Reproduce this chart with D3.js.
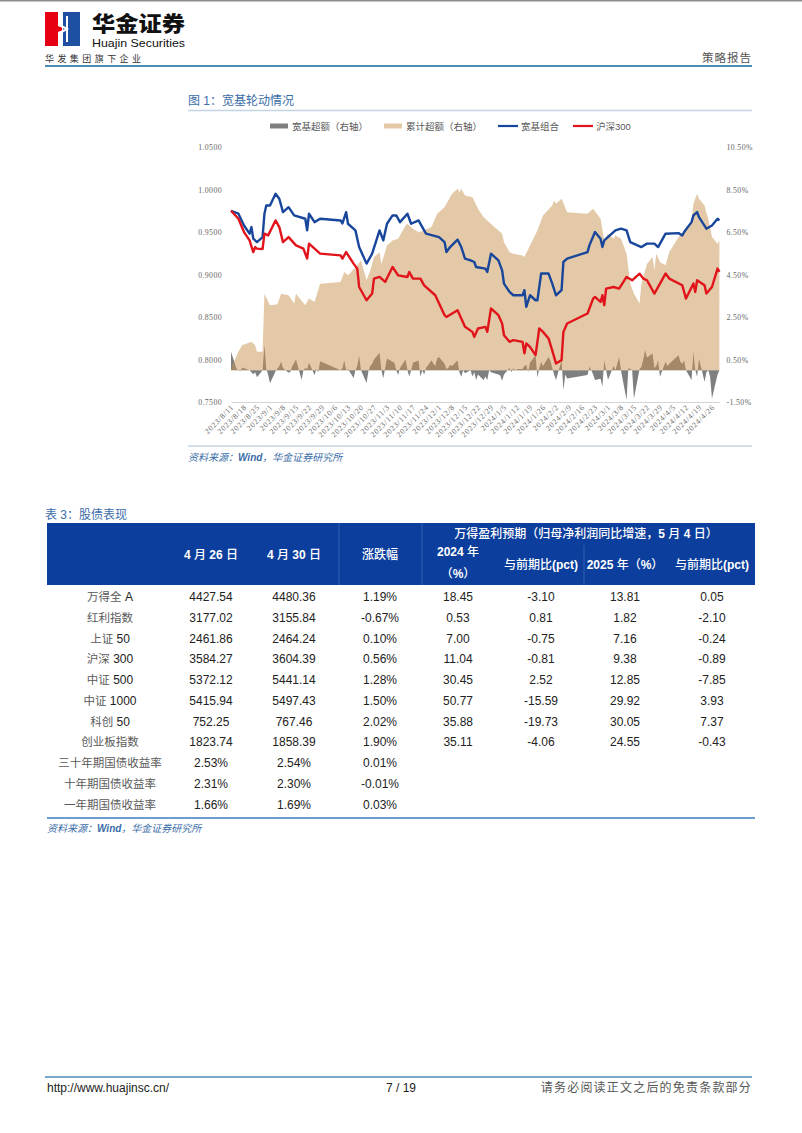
<!DOCTYPE html>
<html><head><meta charset="utf-8">
<script src="https://cdn.jsdelivr.net/npm/d3@7"></script>
<style>
body{margin:0;background:#fff;}
svg text{font-family:"Liberation Sans",Arial,"Noto Sans CJK SC",sans-serif; white-space:pre;}
</style></head><body>
<svg id="page" width="802" height="1133"></svg>
<script>
// ---------------- DATA ----------------
const legendLabels = ["宽基超额（右轴）","累计超额（右轴）","宽基组合","沪深300"];
const xTickLabels = ["2023/8/11","2023/8/18","2023/8/25","2023/9/1","2023/9/8","2023/9/15","2023/9/22","2023/9/29","2023/10/6","2023/10/13","2023/10/20","2023/10/27","2023/11/3","2023/11/10","2023/11/17","2023/11/24","2023/12/1","2023/12/8","2023/12/15","2023/12/22","2023/12/29","2024/1/5","2024/1/12","2024/1/19","2024/1/26","2024/2/2","2024/2/9","2024/2/16","2024/2/23","2024/3/1","2024/3/8","2024/3/15","2024/3/22","2024/3/29","2024/4/5","2024/4/12","2024/4/19","2024/4/26"];
const leftTicks = [0.75,0.80,0.85,0.90,0.95,1.00,1.05];
const rightTicks = [-1.5,0.5,2.5,4.5,6.5,8.5,10.5];

const portfolio = [["2023-08-11",0.975],["2023-08-15",0.9715],["2023-08-18",0.9577],["2023-08-21",0.948],["2023-08-22",0.9558],["2023-08-23",0.9421],["2023-08-25",0.9381],["2023-08-28",0.944],["2023-08-29",0.9715],["2023-08-30",0.9812],["2023-09-01",0.9812],["2023-09-04",0.995],["2023-09-06",0.9891],["2023-09-08",0.9734],["2023-09-11",0.9792],["2023-09-14",0.9695],["2023-09-20",0.9656],["2023-09-21",0.9519],["2023-09-22",0.9715],["2023-09-25",0.9616],["2023-09-28",0.9656],["2023-10-09",0.9636],["2023-10-10",0.960],["2023-10-12",0.9734],["2023-10-13",0.9597],["2023-10-17",0.9519],["2023-10-19",0.9323],["2023-10-23",0.9128],["2023-10-26",0.9245],["2023-10-30",0.9519],["2023-11-01",0.9401],["2023-11-03",0.9597],["2023-11-06",0.9695],["2023-11-08",0.9695],["2023-11-10",0.9616],["2023-11-14",0.9715],["2023-11-16",0.9597],["2023-11-20",0.9636],["2023-11-23",0.9519],["2023-11-24",0.948],["2023-12-01",0.944],["2023-12-04",0.9381],["2023-12-05",0.9264],["2023-12-07",0.9323],["2023-12-11",0.941],["2023-12-13",0.9323],["2023-12-15",0.9187],["2023-12-18",0.9167],["2023-12-20",0.9147],["2023-12-21",0.9088],["2023-12-26",0.9069],["2023-12-27",0.9029],["2023-12-29",0.9245],["2024-01-02",0.9167],["2024-01-04",0.9049],["2024-01-05",0.8893],["2024-01-08",0.8795],["2024-01-10",0.8756],["2024-01-15",0.8756],["2024-01-16",0.8815],["2024-01-17",0.8619],["2024-01-19",0.8756],["2024-01-22",0.8697],["2024-01-23",0.8697],["2024-01-25",0.9011],["2024-01-29",0.9011],["2024-01-31",0.8893],["2024-02-02",0.8756],["2024-02-05",0.8815],["2024-02-06",0.9147],["2024-02-08",0.9186],["2024-02-19",0.9264],["2024-02-20",0.9343],["2024-02-23",0.9499],["2024-02-26",0.9421],["2024-02-27",0.9323],["2024-02-28",0.9401],["2024-03-05",0.9519],["2024-03-08",0.9539],["2024-03-11",0.9519],["2024-03-13",0.9381],["2024-03-19",0.9323],["2024-03-22",0.9363],["2024-03-26",0.9363],["2024-03-28",0.9323],["2024-04-01",0.948],["2024-04-08",0.9487],["2024-04-10",0.946],["2024-04-11",0.9499],["2024-04-15",0.9616],["2024-04-16",0.9695],["2024-04-18",0.9734],["2024-04-19",0.9675],["2024-04-23",0.9539],["2024-04-26",0.9577],["2024-04-29",0.9656],["2024-04-30",0.9636]];

const hs300 = [["2023-08-11",0.975],["2023-08-15",0.9656],["2023-08-18",0.9499],["2023-08-21",0.9401],["2023-08-23",0.9264],["2023-08-24",0.9323],["2023-08-25",0.9304],["2023-08-28",0.930],["2023-08-29",0.948],["2023-08-31",0.946],["2023-09-04",0.9636],["2023-09-06",0.9558],["2023-09-08",0.9381],["2023-09-11",0.944],["2023-09-15",0.9343],["2023-09-19",0.9304],["2023-09-21",0.9187],["2023-09-22",0.9363],["2023-09-25",0.9304],["2023-09-28",0.9245],["2023-10-09",0.9225],["2023-10-10",0.9187],["2023-10-12",0.9264],["2023-10-16",0.9128],["2023-10-18",0.9069],["2023-10-19",0.8853],["2023-10-23",0.8697],["2023-10-26",0.8776],["2023-10-27",0.8952],["2023-10-30",0.8972],["2023-11-02",0.8912],["2023-11-06",0.9088],["2023-11-09",0.899],["2023-11-14",0.8971],["2023-11-15",0.9029],["2023-11-17",0.8952],["2023-11-21",0.8952],["2023-11-23",0.8873],["2023-11-29",0.8756],["2023-12-04",0.8521],["2023-12-05",0.8501],["2023-12-11",0.858],["2023-12-15",0.8384],["2023-12-19",0.8325],["2023-12-20",0.8266],["2023-12-22",0.8365],["2023-12-26",0.8384],["2023-12-27",0.8325],["2023-12-29",0.86],["2024-01-02",0.8521],["2024-01-04",0.8424],["2024-01-05",0.8286],["2024-01-08",0.8208],["2024-01-10",0.8228],["2024-01-15",0.8208],["2024-01-16",0.8072],["2024-01-17",0.8189],["2024-01-19",0.8149],["2024-01-22",0.8052],["2024-01-24",0.8365],["2024-01-26",0.8325],["2024-01-29",0.8248],["2024-02-01",0.8032],["2024-02-02",0.7954],["2024-02-05",0.7993],["2024-02-06",0.8325],["2024-02-08",0.8424],["2024-02-19",0.8541],["2024-02-22",0.8717],["2024-02-23",0.8736],["2024-02-26",0.8677],["2024-02-27",0.8756],["2024-02-28",0.8639],["2024-02-29",0.8834],["2024-03-04",0.8853],["2024-03-07",0.8834],["2024-03-11",0.8971],["2024-03-14",0.8932],["2024-03-18",0.901],["2024-03-20",0.8952],["2024-03-22",0.8932],["2024-03-26",0.8776],["2024-03-29",0.8893],["2024-04-01",0.9011],["2024-04-03",0.8952],["2024-04-10",0.8873],["2024-04-12",0.8717],["2024-04-16",0.8893],["2024-04-17",0.8795],["2024-04-18",0.8932],["2024-04-22",0.8873],["2024-04-23",0.8776],["2024-04-26",0.8853],["2024-04-29",0.907],["2024-04-30",0.903]];

const cumExcess = [["2023-08-11",0.1],["2023-08-15",0.86],["2023-08-17",1.17],["2023-08-22",1.33],["2023-08-24",1.17],["2023-08-25",0.86],["2023-08-28",0.86],["2023-08-29",3.6],["2023-09-01",3.05],["2023-09-05",3.1],["2023-09-07",3.6],["2023-09-11",3.52],["2023-09-14",3.13],["2023-09-15",3.6],["2023-09-20",3.05],["2023-09-22",3.37],["2023-09-25",3.21],["2023-09-28",4.07],["2023-10-09",4.15],["2023-10-11",4.62],["2023-10-13",4.46],["2023-10-18",4.93],["2023-10-20",5.16],["2023-10-23",4.23],["2023-10-25",4.69],["2023-10-27",5.32],["2023-10-30",5.55],["2023-10-31",5.0],["2023-11-03",5.87],["2023-11-06",6.1],["2023-11-09",6.18],["2023-11-13",6.81],["2023-11-14",6.89],["2023-11-17",6.65],["2023-11-20",6.49],["2023-11-23",6.57],["2023-11-27",6.73],["2023-11-30",7.36],["2023-12-04",7.67],["2023-12-08",8.3],["2023-12-11",8.53],["2023-12-12",8.37],["2023-12-13",8.53],["2023-12-15",8.22],["2023-12-19",8.14],["2023-12-22",7.6],["2023-12-25",7.2],["2023-12-28",6.96],["2024-01-02",6.57],["2024-01-04",6.42],["2024-01-05",6.02],["2024-01-08",5.55],["2024-01-10",5.48],["2024-01-15",5.4],["2024-01-16",5.32],["2024-01-19",5.87],["2024-01-23",6.57],["2024-01-26",7.28],["2024-01-31",7.75],["2024-02-01",7.98],["2024-02-02",7.83],["2024-02-05",8.06],["2024-02-08",7.43],["2024-02-19",7.36],["2024-02-22",7.59],["2024-02-26",7.12],["2024-02-28",6.1],["2024-03-01",6.42],["2024-03-04",6.18],["2024-03-05",6.34],["2024-03-08",6.18],["2024-03-11",5.48],["2024-03-13",4.07],["2024-03-15",3.6],["2024-03-18",3.13],["2024-03-19",4.07],["2024-03-21",4.69],["2024-03-22",5.0],["2024-03-25",5.32],["2024-03-26",4.69],["2024-03-27",5.48],["2024-03-29",5.08],["2024-04-01",4.93],["2024-04-03",5.55],["2024-04-08",6.26],["2024-04-11",6.49],["2024-04-12",6.6],["2024-04-15",7.04],["2024-04-16",7.83],["2024-04-18",8.3],["2024-04-19",8.06],["2024-04-22",7.75],["2024-04-23",7.4],["2024-04-24",7.12],["2024-04-26",6.26],["2024-04-29",5.95],["2024-04-30",6.1]];

const dailyExcess = [["2023-08-11",0.86],["2023-08-14",0.05],["2023-08-16",-0.05],["2023-08-17",0.12],["2023-08-21",0.0],["2023-08-23",-0.19],["2023-08-24",-0.1],["2023-08-25",-0.34],["2023-08-28",0.0],["2023-08-29",1.2],["2023-08-30",0.05],["2023-08-31",-0.2],["2023-09-01",-0.62],["2023-09-04",-0.05],["2023-09-06",0.2],["2023-09-07",0.39],["2023-09-08",0.1],["2023-09-11",-0.12],["2023-09-12",-0.08],["2023-09-13",0.2],["2023-09-15",0.5],["2023-09-18",-0.45],["2023-09-19",0.0],["2023-09-20",0.1],["2023-09-21",0.05],["2023-09-22",0.35],["2023-09-25",-0.23],["2023-09-26",0.05],["2023-09-27",-0.1],["2023-09-28",0.42],["2023-10-09",0.0],["2023-10-10",0.1],["2023-10-11",0.45],["2023-10-12",0.0],["2023-10-13",0.05],["2023-10-16",-0.37],["2023-10-17",0.0],["2023-10-18",0.2],["2023-10-19",0.68],["2023-10-20",0.0],["2023-10-23",-0.6],["2023-10-24",-0.05],["2023-10-25",0.2],["2023-10-26",0.3],["2023-10-27",0.5],["2023-10-30",0.82],["2023-10-31",0.0],["2023-11-01",-0.38],["2023-11-02",0.1],["2023-11-03",0.55],["2023-11-06",0.4],["2023-11-07",0.35],["2023-11-08",0.0],["2023-11-09",-0.23],["2023-11-10",0.1],["2023-11-13",0.5],["2023-11-14",0.0],["2023-11-15",-0.3],["2023-11-16",0.0],["2023-11-17",0.35],["2023-11-20",0.45],["2023-11-21",-0.3],["2023-11-22",0.0],["2023-11-23",-0.2],["2023-11-24",0.1],["2023-11-27",0.47],["2023-11-28",0.3],["2023-11-29",0.2],["2023-11-30",0.55],["2023-12-01",0.62],["2023-12-04",0.3],["2023-12-05",0.05],["2023-12-06",0.1],["2023-12-07",0.25],["2023-12-08",0.2],["2023-12-11",0.45],["2023-12-12",-0.1],["2023-12-13",-0.31],["2023-12-14",0.0],["2023-12-15",-0.15],["2023-12-18",0.0],["2023-12-19",-0.3],["2023-12-20",-0.1],["2023-12-21",-0.47],["2023-12-22",-0.2],["2023-12-25",-0.47],["2023-12-26",-0.3],["2023-12-27",-0.47],["2023-12-28",0.0],["2023-12-29",-0.1],["2024-01-02",-0.2],["2024-01-03",-0.25],["2024-01-04",-0.5],["2024-01-05",-0.2],["2024-01-08",0.1],["2024-01-09",-0.1],["2024-01-10",0.1],["2024-01-11",-0.05],["2024-01-12",0.05],["2024-01-15",0.05],["2024-01-16",0.2],["2024-01-17",0.25],["2024-01-18",-0.1],["2024-01-19",0.35],["2024-01-22",0.7],["2024-01-23",-0.35],["2024-01-24",0.1],["2024-01-25",0.39],["2024-01-26",0.2],["2024-01-29",0.62],["2024-01-30",0.45],["2024-01-31",0.1],["2024-02-01",-0.2],["2024-02-02",-0.47],["2024-02-05",0.45],["2024-02-06",-0.94],["2024-02-07",-0.2],["2024-02-08",-0.39],["2024-02-19",-0.23],["2024-02-20",0.16],["2024-02-21",0.0],["2024-02-22",-0.2],["2024-02-23",-0.47],["2024-02-26",-0.4],["2024-02-27",-0.78],["2024-02-28",0.47],["2024-02-29",0.0],["2024-03-01",-0.47],["2024-03-04",0.2],["2024-03-05",0.0],["2024-03-06",0.3],["2024-03-07",0.62],["2024-03-08",0.0],["2024-03-11",-1.41],["2024-03-12",0.1],["2024-03-13",0.05],["2024-03-14",0.0],["2024-03-15",-1.33],["2024-03-18",0.05],["2024-03-19",0.16],["2024-03-20",0.5],["2024-03-21",0.94],["2024-03-22",0.6],["2024-03-25",0.78],["2024-03-26",0.1],["2024-03-27",0.2],["2024-03-28",0.47],["2024-03-29",-0.31],["2024-04-01",0.39],["2024-04-02",0.2],["2024-04-03",0.3],["2024-04-08",0.7],["2024-04-09",0.4],["2024-04-10",0.3],["2024-04-11",0.45],["2024-04-12",0.0],["2024-04-15",-0.47],["2024-04-16",0.86],["2024-04-17",0.0],["2024-04-18",-0.31],["2024-04-19",0.55],["2024-04-22",-0.55],["2024-04-23",-0.1],["2024-04-24",0.0],["2024-04-25",-0.3],["2024-04-26",-1.33],["2024-04-29",-0.2],["2024-04-30",0.0]];

// table data
const headerTop = "万得盈利预期（归母净利润同比增速，5 月 4 日）";
const colHeaders = ["","4 月 26 日","4 月 30 日","涨跌幅","2024 年|（%）","与前期比(pct)","2025 年（%）","与前期比(pct)"];
const rowNames = ["万得全 A","红利指数","上证 50","沪深 300","中证 500","中证 1000","科创 50","创业板指数","三十年期国债收益率","十年期国债收益率","一年期国债收益率"];
const apr26 = ["4427.54","3177.02","2461.86","3584.27","5372.12","5415.94","752.25","1823.74","2.53%","2.31%","1.66%"];
const apr30 = ["4480.36","3155.84","2464.24","3604.39","5441.14","5497.43","767.46","1858.39","2.54%","2.30%","1.69%"];
const changePct = ["1.19%","-0.67%","0.10%","0.56%","1.28%","1.50%","2.02%","1.90%","0.01%","-0.01%","0.03%"];
const growth2024 = ["18.45","0.53","7.00","11.04","30.45","50.77","35.88","35.11","","",""];
const delta2024 = ["-3.10","0.81","-0.75","-0.81","2.52","-15.59","-19.73","-4.06","","",""];
const growth2025 = ["13.81","1.82","7.16","9.38","12.85","29.92","30.05","24.55","","",""];
const delta2025 = ["0.05","-2.10","-0.24","-0.89","-7.85","3.93","7.37","-0.43","","",""];

// ---------------- HELPERS ----------------
const svg = d3.select("#page");
const parse = d3.timeParse("%Y-%m-%d");
const CJK = /[\u3000-\u303f\u3400-\u9fff\uff00-\uffef]/;
function rich(t, s, cjk, lat){
  (s.match(/[\u3000-\u303f\u3400-\u9fff\uff00-\uffef]+|[^\u3000-\u303f\u3400-\u9fff\uff00-\uffef]+/g)||[]).forEach(run=>{
    const ts = t.append("tspan").text(run);
    const st = CJK.test(run)?cjk:lat;
    for(const k in st) ts.style(k, st[k]);
  });
  return t;
}
const cjkFont = '"Noto Sans CJK SC",sans-serif';
const latFont = '"Liberation Sans",Arial,sans-serif';
const serif = '"Liberation Serif","DejaVu Serif",serif';
const blueTxt = "#3b6ea8";

// ---------------- PAGE HEADER ----------------
svg.append("rect").attr("x",0).attr("y",0).attr("width",802).attr("height",1.5).attr("fill","#8c8c8c");
const logo = svg.append("g").attr("transform","translate(45,12)");
logo.append("rect").attr("width",17).attr("height",34).attr("fill","#e60012");
logo.append("rect").attr("x",18).attr("width",17).attr("height",34).attr("fill","#1f4fa0");
logo.append("polygon").attr("points","13,0 17,0 17,13 24,17 17,21 17,34 13,34 13,20 20,17 13,14").attr("fill","#fff");
logo.append("polygon").attr("points","21,4 23,4 23,30 21,30").attr("fill","#fff");
svg.append("text").attr("x",92).attr("y",31).attr("textLength",93).attr("lengthAdjust","spacingAndGlyphs")
  .style("font-family",cjkFont).style("font-weight",900).style("font-size","21px").attr("fill","#111").text("华金证券");
svg.append("text").attr("x",92).attr("y",47).attr("textLength",93).attr("lengthAdjust","spacingAndGlyphs")
  .style("font-family",latFont).style("font-size","10.5px").attr("fill","#111").text("Huajin Securities");
svg.append("text").attr("x",45).attr("y",62).attr("textLength",96).attr("lengthAdjust","spacing")
  .style("font-family",cjkFont).style("font-size","9px").attr("fill","#333").text("华发集团旗下企业");
svg.append("text").attr("x",752).attr("y",62).attr("text-anchor","end")
  .style("font-family",cjkFont).style("font-size","11.5px").style("letter-spacing","1px").attr("fill","#555").text("策略报告");
svg.append("line").attr("x1",45).attr("x2",752).attr("y1",66).attr("y2",66).attr("stroke","#4b8db3").attr("stroke-width",2.2);

// ---------------- CHART ----------------
rich(svg.append("text").attr("x",188).attr("y",105).style("font-size","12px").attr("fill",blueTxt),
  "图 1：宽基轮动情况", {"font-family":cjkFont}, {"font-family":latFont});
svg.append("line").attr("x1",188).attr("x2",752).attr("y1",110.5).attr("y2",110.5).attr("stroke","#c3d4e3").attr("stroke-width",1.5);
svg.append("line").attr("x1",188).attr("x2",752).attr("y1",446).attr("y2",446).attr("stroke","#c3d4e3").attr("stroke-width",1.5);

const x = d3.scaleTime().domain([parse("2023-08-11"), parse("2024-04-30")]).range([231, 719.4]);
const yL = d3.scaleLinear().domain([0.75,1.05]).range([402,147]);
const yR = d3.scaleLinear().domain([-1.5,10.5]).range([402,147]);
const toPts = arr => arr.map(([d,v])=>({date:parse(d), v}));

const colors = {gray:"#7f7f7f", tan:"rgb(200,148,80)", blue:"#17469b", red:"#e1141c"};

// legend
const lg = svg.append("g").style("font-family",cjkFont).style("font-size","9.5px");
const legendX = [270, 384, 498, 573];
legendLabels.forEach((lab,i)=>{
  const gx = legendX[i];
  if(i<2){
    lg.append("rect").attr("x",gx).attr("y",123.5).attr("width",18).attr("height",5)
      .attr("fill", i===0?colors.gray:colors.tan).attr("fill-opacity", i===0?1:0.5);
  } else {
    lg.append("line").attr("x1",gx).attr("x2",gx+20).attr("y1",126).attr("y2",126)
      .attr("stroke", i===2?colors.blue:colors.red).attr("stroke-width",2.2);
  }
  lg.append("text").attr("x", gx + (i<2?22:23)).attr("y",129.5).attr("fill","#595959").text(lab);
});

// axes
const axL = svg.append("g").attr("transform","translate(231,0)")
  .call(d3.axisLeft(yL).tickValues(leftTicks).tickFormat(d3.format(".4f")).tickSize(0).tickPadding(9));
axL.select(".domain").remove();
axL.selectAll("text").style("font-family",serif).style("font-size","7.8px").style("letter-spacing","0.4px").attr("fill","#666");
const axR = svg.append("g").attr("transform","translate(719.4,0)")
  .call(d3.axisRight(yR).tickValues(rightTicks).tickFormat(d=>d.toFixed(2)+"%").tickSize(0).tickPadding(7));
axR.select(".domain").remove();
axR.selectAll("text").style("font-family",serif).style("font-size","7.8px").style("letter-spacing","0.4px").attr("fill","#666");

const tickDates = xTickLabels.map(s=>{const [a,b,c]=s.split("/").map(Number); return new Date(a,b-1,c);});
const axB = svg.append("g").attr("transform",`translate(0,${yL(0.75)})`)
  .call(d3.axisBottom(x).tickValues(tickDates).tickFormat((d,i)=>xTickLabels[i]).tickSize(0).tickPadding(0));
axB.select(".domain").attr("stroke","#d4d4d4").attr("stroke-width",1);
axB.selectAll("text").attr("text-anchor","end").attr("y",0).attr("dy","0.32em")
  .attr("transform","translate(1,4) rotate(-45)")
  .style("font-family",serif).style("font-size","7.8px").style("letter-spacing","0.7px").attr("fill","#666");

// areas
const daily = toPts(dailyExcess), cum = toPts(cumExcess);
svg.append("path").datum(daily).attr("fill",colors.gray)
  .attr("d", d3.area().x(d=>x(d.date)).y0(yR(0)).y1(d=>yR(d.v)));
svg.append("path").datum(cum).attr("fill",colors.tan).attr("fill-opacity",0.5)
  .attr("d", d3.area().x(d=>x(d.date)).y0(yR(0)).y1(d=>yR(d.v)));

// lines
const lineL = d3.line().x(d=>x(d.date)).y(d=>yL(d.v));
svg.append("path").datum(toPts(portfolio)).attr("fill","none").attr("stroke",colors.blue).attr("stroke-width",2.4).attr("stroke-linejoin","round").attr("d",lineL);
svg.append("path").datum(toPts(hs300)).attr("fill","none").attr("stroke",colors.red).attr("stroke-width",2.4).attr("stroke-linejoin","round").attr("d",lineL);

// source
rich(svg.append("text").attr("x",188).attr("y",461).style("font-size","10px").style("font-style","italic").attr("fill",blueTxt),
  "资料来源：Wind，华金证券研究所", {"font-family":cjkFont}, {"font-family":latFont,"font-weight":"bold"});

// ---------------- TABLE ----------------
rich(svg.append("text").attr("x",45).attr("y",519).style("font-size","12px").attr("fill",blueTxt),
  "表 3：股债表现", {"font-family":cjkFont}, {"font-family":latFont});

const colKeys = ["name","a26","a30","chg","g24","d24","g25","d25"];
const colX = d3.scaleOrdinal().domain(colKeys).range([110, 211, 294, 380, 458, 541, 625, 712]);
const cols = {name:rowNames, a26:apr26, a30:apr30, chg:changePct, g24:growth2024, d24:delta2024, g25:growth2025, d25:delta2025};
const rowY = d3.scaleBand().domain(d3.range(rowNames.length)).range([586.6, 814.9]);

svg.append("rect").attr("x",47).attr("y",523).attr("width",708).attr("height",62).attr("fill","#0c3e9d");
[[339,523,585],[422,523,585],[584,545,585]].forEach(([lx,y1,y2])=>
  svg.append("line").attr("x1",lx).attr("x2",lx).attr("y1",y1).attr("y2",y2).attr("stroke","#3560b0").attr("stroke-width",1));

const hdrCJK = {"font-family":cjkFont,"font-weight":"500"};
const hdrLat = {"font-family":latFont,"font-weight":"bold"};
rich(svg.append("text").attr("x",586).attr("y",538).attr("text-anchor","middle").style("font-size","12px").attr("fill","#fff"),
  headerTop, hdrCJK, hdrLat);
colHeaders.forEach((h,i)=>{
  if(!h) return;
  const parts = h.split("|");
  const cy = i<=3 ? 555 : 565;
  parts.forEach((p,j)=>{
    const yy = parts.length>1 ? (j===0?556:578) : cy+4;
    rich(svg.append("text").attr("x",colX(colKeys[i])).attr("y",yy).attr("text-anchor","middle").style("font-size","12px").attr("fill","#fff"),
      p, hdrCJK, hdrLat);
  });
});

const body = svg.append("g");
colKeys.forEach(k=>{
  cols[k].forEach((val,r)=>{
    if(!val) return;
    const t = body.append("text").attr("x",colX(k)).attr("y",rowY(r)+rowY.bandwidth()/2+4.2)
      .attr("text-anchor","middle").style("font-size","12px");
    if(k==="name") rich(t, val, {"font-family":cjkFont,"fill":"#5a5a5a","font-size":"11.5px"}, {"font-family":latFont,"fill":"#222"});
    else t.style("font-family",latFont).attr("fill","#222").text(val);
  });
});
svg.append("line").attr("x1",47).attr("x2",755).attr("y1",818).attr("y2",818).attr("stroke","#3d7dbd").attr("stroke-width",1.5);
rich(svg.append("text").attr("x",47).attr("y",832).style("font-size","10px").style("font-style","italic").attr("fill",blueTxt),
  "资料来源：Wind，华金证券研究所", {"font-family":cjkFont}, {"font-family":latFont,"font-weight":"bold"});

// ---------------- FOOTER ----------------
svg.append("line").attr("x1",45).attr("x2",752).attr("y1",1077).attr("y2",1077).attr("stroke","#4b8db3").attr("stroke-width",1.5);
svg.append("text").attr("x",47).attr("y",1092).style("font-family",latFont).style("font-size","12px").attr("fill","#222").text("http://www.huajinsc.cn/");
svg.append("text").attr("x",401).attr("y",1092).attr("text-anchor","middle").style("font-family",latFont).style("font-size","12px").attr("fill","#222").text("7 / 19");
svg.append("text").attr("x",752).attr("y",1092).attr("text-anchor","end").style("font-family",cjkFont).style("font-size","12px").style("letter-spacing","1.2px").attr("fill","#555").text("请务必阅读正文之后的免责条款部分");
</script>
</body></html>
